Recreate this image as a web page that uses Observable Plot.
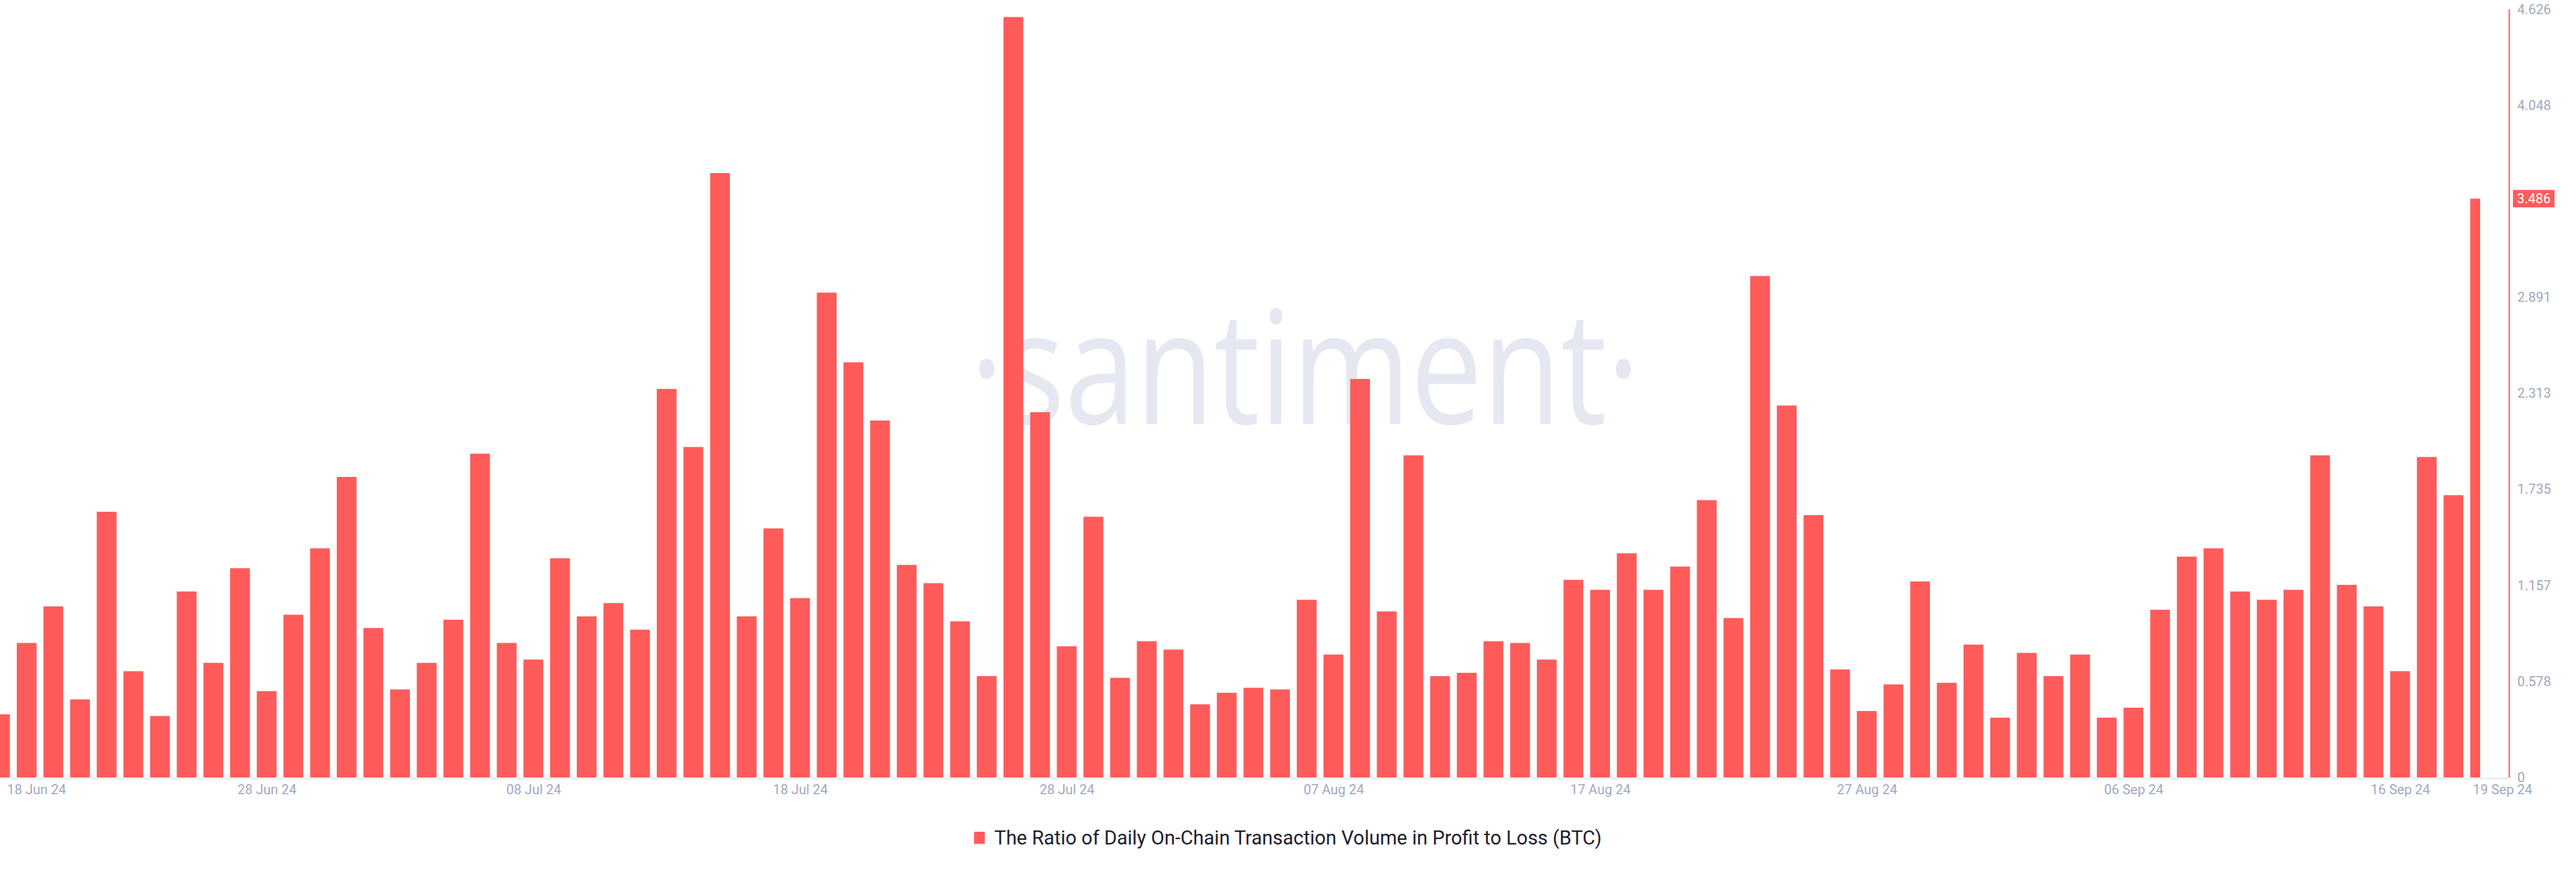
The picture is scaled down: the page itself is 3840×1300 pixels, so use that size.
<!DOCTYPE html>
<html>
<head>
<meta charset="utf-8">
<script src="https://cdn.jsdelivr.net/npm/d3@7"></script>
<script src="https://cdn.jsdelivr.net/npm/@observablehq/plot@0.6"></script>
<style>
  html, body { margin: 0; padding: 0; background: #ffffff; }
  body { width: 3840px; height: 1300px; overflow: hidden; font-family: Roboto, "Open Sans", sans-serif; }
  #legend { height: 68px; display: flex; align-items: center; justify-content: center; font-size: 29px; color: #1d2030; }
  #legend .sw { display: inline-block; width: 16px; height: 18px; background: #ff5b5b; margin-right: 14px; }
</style>
</head>
<body>
<div id="chart"></div>
<div id="legend"><span class="sw"></span><span id="legend-text"></span></div>
<script>
// ---- data ----
const seriesName = "The Ratio of Daily On-Chain Transaction Volume in Profit to Loss (BTC)";
const startDay = "2024-06-18";
const values = [
  // 18 Jun - 30 Jun
  0.38, 0.81, 1.03, 0.47, 1.60, 0.64, 0.37, 1.12, 0.69, 1.26, 0.52, 0.98, 1.38,
  // Jul
  1.81, 0.90, 0.53, 0.69, 0.95, 1.95, 0.81, 0.71, 1.32, 0.97, 1.05, 0.89, 2.34, 1.99, 3.64, 0.97,
  1.50, 1.08, 2.92, 2.50, 2.15, 1.28, 1.17, 0.94, 0.61, 4.58, 2.20, 0.79, 1.57, 0.60, 0.82,
  // Aug
  0.77, 0.44, 0.51, 0.54, 0.53, 1.07, 0.74, 2.40, 1.00, 1.94, 0.61, 0.63, 0.82, 0.81, 0.71, 1.19,
  1.13, 1.35, 1.13, 1.27, 1.67, 0.96, 3.02, 2.24, 1.58, 0.65, 0.40, 0.56, 1.18, 0.57, 0.80,
  // Sep 1 - 19
  0.36, 0.75, 0.61, 0.74, 0.36, 0.42, 1.01, 1.33, 1.38, 1.12, 1.07, 1.13, 1.94, 1.16, 1.03, 0.64,
  1.93, 1.70, 3.486
];
const yMax = 4.626;
const yTicks = [0, 0.578, 1.157, 1.735, 2.313, 2.891, 4.048, 4.626];
const xTickDays = ["2024-06-28", "2024-07-08", "2024-07-18", "2024-07-28", "2024-08-07",
                   "2024-08-17", "2024-08-27", "2024-09-06", "2024-09-16"];
const firstTickDay = "2024-06-18";
const lastTickDay = "2024-09-19";
const watermark = "\u00B7santiment\u00B7";

// ---- build ----
const start = new Date(startDay);
const dates = d3.utcDay.range(start, d3.utcDay.offset(start, values.length));
const data = dates.map((date, i) => ({date, value: values[i]}));
const firstDate = dates[0], lastDate = dates[dates.length - 1];
const lastValue = values[values.length - 1];
const DAY = 864e5;
const half = 0.371 * DAY;
const axisEnd = new Date(+lastDate + 1.08 * DAY);

const W = 3840, H = 1215, mT = 14, mB = 56, mR = 100, mL = 0;
const red = "#ff5b5b", tickColor = "#a0a8c2";
const fmt = d3.utcFormat("%d %b %y");

const plot = Plot.plot({
  width: W, height: H,
  marginTop: mT, marginBottom: mB, marginLeft: mL, marginRight: mR,
  style: {fontFamily: "Roboto, sans-serif", fontSize: "20px", background: "transparent", overflow: "visible"},
  x: {type: "utc", domain: [firstDate, axisEnd], axis: null},
  y: {domain: [0, yMax], axis: null, label: null},
  marks: [
    Plot.rectY(data, {
      x1: d => new Date(Math.max(+d.date - half, +firstDate)),
      x2: d => new Date(Math.min(+d.date + half, +lastDate)),
      y: "value",
      fill: red
    }),
    Plot.ruleY([0], {stroke: "#e2e5ef", strokeWidth: 2, dy: 1}),
    Plot.ruleX([axisEnd], {stroke: red, strokeWidth: 2}),
    Plot.axisY({
      anchor: "right", ticks: yTicks, tickSize: 0, tickPadding: 12, label: null,
      tickFormat: d => d === 0 ? "0" : d3.format(".3f")(d),
      color: tickColor, fontSize: 20
    }),
    Plot.text(xTickDays.map(s => new Date(s)), {
      x: d => d, frameAnchor: "bottom", dy: 24, text: fmt, fill: tickColor, fontSize: 20
    }),
    Plot.text([new Date(firstTickDay)], {
      x: d => d, frameAnchor: "bottom", dy: 24, dx: 10, textAnchor: "start", text: fmt, fill: tickColor, fontSize: 20
    }),
    Plot.text([new Date(lastTickDay)], {
      x: d => d, frameAnchor: "bottom", dy: 24, dx: 33, text: fmt, fill: tickColor, fontSize: 20
    })
  ]
});

const svg = d3.select(plot);
// watermark behind the bars
svg.insert("text", ":first-child")
  .attr("x", 1446).attr("y", 632)
  .attr("text-anchor", "start")
  .attr("font-family", "'Open Sans', sans-serif")
  .attr("font-size", 235)
  .attr("font-weight", 400)
  .attr("fill", "#e5e8f1")
  .attr("textLength", 999)
  .attr("lengthAdjust", "spacingAndGlyphs")
  .text(watermark);

// last-value badge on the right axis
const yPos = plot.scale("y").apply(lastValue);
const bx = W - mR + 6;
svg.append("rect")
  .attr("x", bx).attr("y", yPos - 13).attr("width", 62).attr("height", 26)
  .attr("fill", red);
svg.append("text")
  .attr("x", W - mR + 12).attr("y", yPos).attr("dy", "0.35em")
  .attr("text-anchor", "start")
  .attr("fill", "#ffffff").attr("font-size", 20).attr("font-family", "Roboto, sans-serif")
  .text(d3.format(".3f")(lastValue));

document.getElementById("chart").appendChild(plot);
document.getElementById("legend-text").textContent = seriesName;
</script>
</body>
</html>
